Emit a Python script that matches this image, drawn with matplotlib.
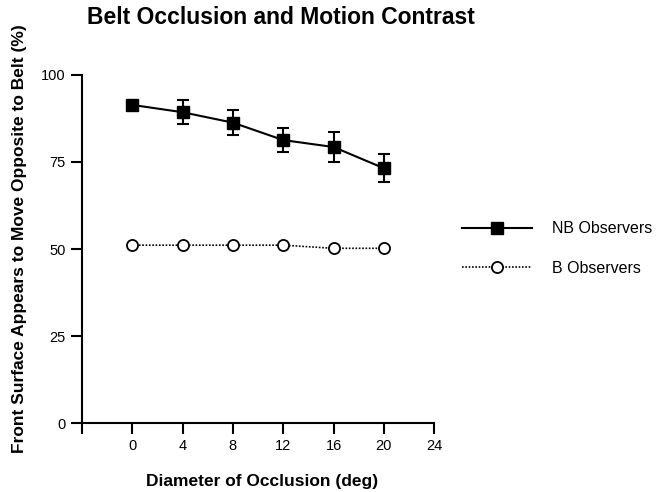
import matplotlib
matplotlib.use("Agg")
from matplotlib import pyplot as plt
from matplotlib.lines import Line2D

plt.rcParams['font.family'] = ['Liberation Sans', 'DejaVu Sans']

diameter = [0, 4, 8, 12, 16, 20]
nb_mean = [91.4, 89.3, 86.3, 81.3, 79.3, 73.2]
nb_err = [1.0, 3.4, 3.5, 3.5, 4.3, 4.0]
b_mean = [51.1, 51.1, 51.1, 51.1, 50.2, 50.2]
xticks = [-4, 0, 4, 8, 12, 16, 20, 24]
xticklabels = ['', '0', '4', '8', '12', '16', '20', '24']
yticks = [0, 25, 50, 75, 100]

fig = plt.figure(figsize=(6.66, 4.92), dpi=100)
ax = fig.add_axes([0.123, 0.1402, 0.529, 0.7074])

ax.errorbar(diameter, nb_mean, yerr=nb_err, color='black', lw=1.5,
            marker='s', ms=9, mfc='black', mec='black',
            capsize=4, capthick=1.5, elinewidth=1.5)
ax.plot(diameter, b_mean, color='black', lw=1.2, ls=(0, (1, 1)),
        marker='o', ms=8, mfc='white', mec='black', mew=1.3)

ax.set_xlim(-4, 24)
ax.set_ylim(0, 100)
ax.set_xticks(xticks)
ax.set_xticklabels(xticklabels)
ax.set_yticks(yticks)
ax.spines['top'].set_visible(False)
ax.spines['right'].set_visible(False)
ax.spines['left'].set_linewidth(1.5)
ax.spines['bottom'].set_linewidth(1.5)
ax.tick_params(direction='out', length=8, width=1.5, labelsize=10.5)

# axis titles and heading
fig.text(0.393, 0.022, 'Diameter of Occlusion (deg)', fontsize=12.5,
         fontweight='bold', ha='center', va='center')
fig.text(0.030, 1 - 239 / 492, 'Front Surface Appears to Move Opposite to Belt (%)',
         fontsize=12.5, fontweight='bold', rotation=90, ha='center', va='center')
fig.text(0.131, 0.965, 'Belt Occlusion and Motion Contrast', fontsize=16.5,
         fontweight='bold', ha='left', va='center')

handles = [
    Line2D([], [], color='black', lw=1.5, marker='s', ms=9, mfc='black', mec='black'),
    Line2D([], [], color='black', lw=1.2, ls=(0, (1, 1)), marker='o', ms=8,
           mfc='white', mec='black', mew=1.3),
]
fig.legend(handles, ['NB Observers', 'B Observers'], loc='center left',
           bbox_to_anchor=(462 / 666, 1 - 248.5 / 492), frameon=False,
           borderpad=0, borderaxespad=0, handlelength=4.4, handletextpad=1.25,
           labelspacing=1.55, fontsize=11.5)

fig.savefig('out.png', dpi=100)
